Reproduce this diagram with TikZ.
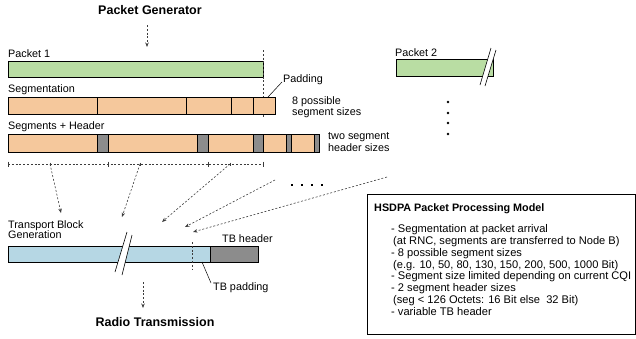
\documentclass[tikz,border=0pt]{standalone}
\usepackage{fontspec}
\setmainfont{Liberation Sans}
\usetikzlibrary{arrows.meta}
\definecolor{pgreen}{RGB}{185,221,163}
\definecolor{porange}{RGB}{245,200,156}
\definecolor{pblue}{RGB}{182,215,228}
\definecolor{hgray}{RGB}{140,140,140}
\definecolor{dline}{RGB}{60,60,60}
\begin{document}
\begin{tikzpicture}[x=1pt,y=-1pt,
  lbl/.style={font=\fontsize{10.8}{12}\selectfont, inner sep=0pt, anchor=west},
  ttl/.style={font=\fontsize{12.5}{14}\selectfont\bfseries, inner sep=0pt},
  bar/.style={draw=black, line width=0.7pt},
  hdr/.style={draw=black, line width=0.7pt, fill=hgray},
  dashln/.style={dline, line width=0.6pt, dash pattern=on 2pt off 1.8pt},
  arr/.style={dashln, -{Stealth[length=4.5pt,width=3.5pt]}},
  thin/.style={black, line width=0.5pt},
  brk/.style={black, line width=0.6pt}]
\useasboundingbox (0,0) rectangle (636,338);

% titles
\node[ttl] (gen) at (150,10) {Packet Generator};
\node[ttl] (radio) at (155,322) {Radio Transmission};

% packet 1
\node[lbl] (p1lbl) at (8,54) {Packet 1};
\path[bar, fill=pgreen] (8,61) rectangle (263,77);
\coordinate (genA) at (147,25);
\coordinate (genB) at (147,47);
\draw[arr] (genA) -- (genB);
\coordinate (vtop) at (263,50);
\coordinate (vbot) at (263,118);
\draw[dashln] (vtop) -- (vbot);

% segmentation
\node[lbl] (seglbl) at (8,90) {Segmentation};
\path[bar, fill=porange] (8,97) rectangle (275,114);
\foreach \x in {97,186,231,253} \draw[bar] (\x,97) -- (\x,114);
\node[lbl] (pad) at (283,80) {Padding};
\coordinate (padA) at (268,97);
\coordinate (padB) at (282,82);
\draw[thin] (padA) -- (padB);
\node[lbl] (eight1) at (292,102) {8 possible};
\node[lbl] (eight2) at (292,113) {segment sizes};

% segments + header
\node[lbl] (shlbl) at (8,127) {Segments + Header};
\path[bar, fill=porange] (8,134) rectangle (319,152);
\foreach \a/\b in {97/108,197/208,253/263,286/291,314/319}
  \path[hdr] (\a,134) rectangle (\b,152);
\node[lbl] (two1) at (328,137) {two segment};
\node[lbl] (two2) at (328,148) {header sizes};

% measure line
\coordinate (mA) at (8,164);
\coordinate (mB) at (263,164);
\draw[dashln] (mA) -- (mB);
\foreach \x in {8,108,208,263} \draw[dline, line width=0.6pt] (\x,161.5) -- (\x,166.5);
\foreach \x in {50,140,230} \draw[dline, line width=0.6pt] (\x,162.5) -- (\x,165.5);

% arrows into transport block
\coordinate (s1) at (50,164);   \coordinate (e1) at (61,213);
\coordinate (s2) at (140,164);  \coordinate (e2) at (122,217);
\coordinate (s3) at (230,164);  \coordinate (e3) at (162,222);
\coordinate (s4) at (275,180);  \coordinate (e4) at (185,227);
\coordinate (s5) at (387,177);  \coordinate (e5) at (193,232);
\foreach \i in {1,...,5} \draw[arr] (s\i) -- (e\i);
\foreach \x in {292,302,312,322} \fill[black] (\x-1.3,183.7) rectangle (\x+1.3,186.3);

% packet 2
\node[lbl] (p2lbl) at (395,53) {Packet 2};
\path[bar, fill=pgreen] (396,59) rectangle (493,76);
\fill[white] (480,85) -- (491,48) -- (496,50) -- (485,86) -- cycle;
\draw[brk] (480,85) -- (491,48);
\draw[brk] (485,86) -- (496,50);
\foreach \y in {102,113,123,134} \fill[black] (448,\y) circle (1.4);

% transport block
\node[lbl, align=left, anchor=north west] (tblbl) at (8,220) {Transport Block\\[-1.5pt]Generation};
\path[bar, fill=pblue] (8,246) rectangle (210,262);
\path[hdr] (210,246) rectangle (258,262);
\fill[white] (115,272) -- (127,232) -- (132,235) -- (122,275) -- cycle;
\draw[brk] (115,272) -- (127,232);
\draw[brk] (122,275) -- (132,235);
\coordinate (tvA) at (192,242);
\coordinate (tvB) at (192,270);
\draw[dashln] (tvA) -- (tvB);
\node[lbl] (tbh) at (222,239) {TB header};
\node[lbl] (tbp) at (213,288) {TB padding};
\coordinate (tpA) at (202,262);
\coordinate (tpB) at (211,283);
\draw[thin] (tpA) -- (tpB);
\coordinate (rA) at (143,282);
\coordinate (rB) at (143,308);
\draw[arr] (rA) -- (rB);

% info box
\draw[line width=0.8pt] (367,194) rectangle (635.4,334);
\node[font=\fontsize{10.8}{12}\selectfont\bfseries, inner sep=0pt, anchor=west] (boxttl) at (374,209) {HSDPA Packet Processing Model};
\node[font=\fontsize{11.1}{11.85}\selectfont, inner sep=0pt, anchor=north west, align=left] (boxtxt) at (391,224.3)
 {- Segmentation at packet arrival\\
  \hspace*{2pt}(at RNC, segments are transferred to Node B)\\
  - 8 possible segment sizes\\
  \hspace*{2pt}(e.g. 10, 50, 80, 130, 150, 200, 500, 1000 Bit)\\
  - Segment size limited depending on current CQI\\
  - 2 segment header sizes\\
  \hspace*{2pt}(seg < 126 Octets: 16 Bit else\ \ 32 Bit)\\
  - variable TB header};
\end{tikzpicture}
\end{document}
